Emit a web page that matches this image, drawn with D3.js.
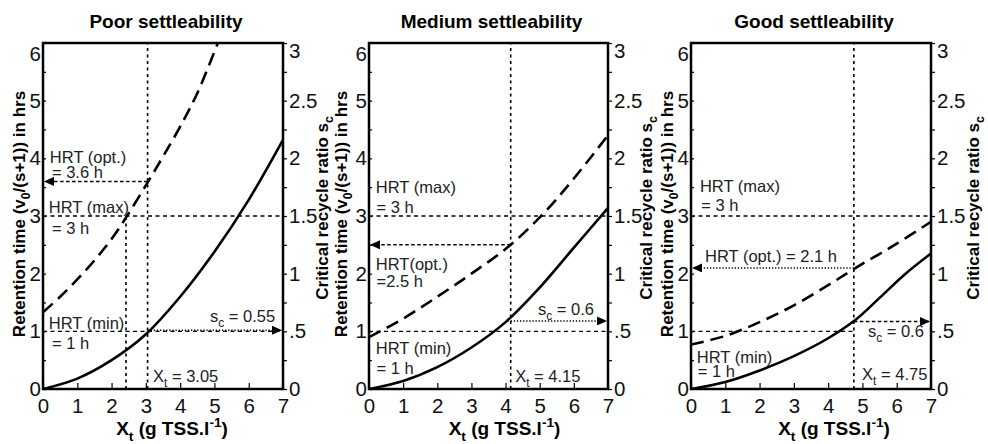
<!DOCTYPE html>
<html>
<head>
<meta charset="utf-8">
<script src="https://cdnjs.cloudflare.com/ajax/libs/d3/7.8.5/d3.min.js"></script>
<style>
body{margin:0;background:#fff;}
svg{font-family:"Liberation Sans",Arial,Helvetica,sans-serif;}
.tick text{font-size:20.5px;fill:#111;}
.note{font-size:16.5px;fill:#222;}
</style>
</head>
<body>
<svg id="chart" width="988" height="444"></svg>
<script>
// ---- data ----
const titles = ['Poor settleability','Medium settleability','Good settleability'];
const xTicks = [0,1,2,3,4,5,6,7];
const hrsTicks = [0,1,2,3,4,5,6];
const ratioTicks = [0,0.5,1,1.5,2,2.5,3];
const ratioTickLabels = ['0','.5','1','1.5','2','2.5','3'];

// retention time v0/(s+1), hrs (dashed, left axis)
const hrtX = [
  [0,0.5,1,1.5,2,2.45,3.05,3.5,4,4.5,5.1],
  [0,1,2,3,4.15,5.2,6,7],
  [0,1,2,3,4,4.75,6,7]
];
const hrtY = [
  [1.33,1.6,1.9,2.23,2.6,3.0,3.58,4.03,4.55,5.13,6.0],
  [0.9,1.22,1.6,2.0,2.5,3.1,3.65,4.4],
  [0.77,0.92,1.16,1.45,1.8,2.08,2.52,2.9]
];
// critical recycle ratio sc (solid, right axis)
const scX = [
  [0,1,2,3,4,5,6,7],
  [0,1,2,3,4,5,6,7],
  [0,1,2,3,4,4.8,5.5,6.2,7]
];
const scY = [
  [0,0.09,0.25,0.475,0.8,1.19,1.64,2.16],
  [0,0.07,0.19,0.36,0.58,0.88,1.225,1.57],
  [0,0.06,0.16,0.285,0.44,0.6,0.79,0.985,1.175]
];
const hrtMin = [1,1,1];
const hrtMax = [3,3,3];
const xtOpt = [3.05,4.15,4.75];
const hrtOpt = [3.6,2.5,2.1];
const scOpt = [0.55,0.6,0.6];
const scArrow = [0.51,0.59,0.585];   // level the sc arrow is drawn at
const hrtMaxCross = [2.42,null,null];

// ---- layout ----
const plotTop = 43, plotBottom = 389;
const panelLeft = [43,369,691];
const panelWidth = [240,239,240];
const xLabelShift = [9,16,23];
const leftLabelX = [25,347,673];
const rightLabelX = [328,652,979];
const optStyle = ['dash','dash','dot'];
const scStyle = ['dot','dot','dash'];
const dashes = {dash:'3.5,2.5', dot:'1.3,1.8', ref:'4,3.5', vert:'3,3.5'};

const notes = [
  [
    {p:[['HRT (opt.)']], x:0.2, y:3.92},
    {p:[['= '+hrtOpt[0]+' h']], x:0.26, y:3.66},
    {p:[['HRT (max)']], x:0.17, y:3.05},
    {p:[['= '+hrtMax[0]+' h']], x:0.26, y:2.69},
    {p:[['HRT (min)']], x:0.17, y:1.04},
    {p:[['= '+hrtMin[0]+' h']], x:0.26, y:0.69},
    {p:[['s'],['c',-1],[' = '+scOpt[0]]], x:6.77, y:1.16, end:true},
    {p:[['X'],['t',-1],[' = '+xtOpt[0]]], x:3.21, y:0.12}
  ],
  [
    {p:[['HRT (max)']], x:0.2, y:3.4},
    {p:[['= '+hrtMax[1]+' h']], x:0.22, y:3.05},
    {p:[['HRT(opt.)']], x:0.2, y:2.06},
    {p:[['='+hrtOpt[1]+' h']], x:0.22, y:1.77},
    {p:[['HRT (min)']], x:0.2, y:0.61},
    {p:[['= '+hrtMin[1]+' h']], x:0.22, y:0.26},
    {p:[['s'],['c',-1],[' = '+scOpt[1]]], x:4.95, y:1.28},
    {p:[['X'],['t',-1],[' = '+xtOpt[1]]], x:4.28, y:0.12}
  ],
  [
    {p:[['HRT (max)']], x:0.26, y:3.42},
    {p:[['= '+hrtMax[2]+' h']], x:0.3, y:3.09},
    {p:[['HRT (opt.) = '+hrtOpt[2]+' h']], x:0.41, y:2.2},
    {p:[['HRT (min)']], x:0.17, y:0.45},
    {p:[['= '+hrtMin[2]+' h']], x:0.2, y:0.2},
    {p:[['s'],['c',-1],[' = '+scOpt[2]]], x:5.16, y:0.9},
    {p:[['X'],['t',-1],[' = '+xtOpt[2]]], x:4.99, y:0.16}
  ]
];

const svg = d3.select('#chart');

// arrow head
svg.append('defs').append('marker')
  .attr('id','arrow').attr('markerUnits','userSpaceOnUse')
  .attr('markerWidth',10).attr('markerHeight',9)
  .attr('refX',9).attr('refY',4.5).attr('orient','auto')
  .append('path').attr('d','M0,0L10,4.5L0,9Z').attr('fill','#000');

function rich(textSel, parts, size){
  let cur = 0;
  parts.forEach(([t,s])=>{
    s = s || 0;
    const target = s===-1 ? size*0.32 : (s===1 ? -size*0.42 : 0);
    const ts = textSel.append('tspan').text(t).attr('dy', target-cur);
    if(s!==0) ts.style('font-size', (size*0.72)+'px');
    cur = target;
  });
}

function cleanAxis(g){
  g.attr('font-size',null).attr('font-family',null);
  g.select('.domain').remove();
  g.selectAll('.tick line').attr('stroke','#000').attr('stroke-width',1.2);
}

titles.forEach((title,i)=>{
  const x = d3.scaleLinear([0,7],[panelLeft[i], panelLeft[i]+panelWidth[i]]);
  const yL = d3.scaleLinear([0,6],[plotBottom,plotTop]);
  const yR = d3.scaleLinear([0,3],[plotBottom,plotTop]);
  const g = svg.append('g');

  g.append('clipPath').attr('id','clip'+i).append('rect')
    .attr('x',x(0)).attr('y',plotTop).attr('width',x(7)-x(0)).attr('height',plotBottom-plotTop);

  // axes
  const left = g.append('g').attr('transform',`translate(${x(0)},0)`)
    .call(d3.axisLeft(yL).tickValues(d3.range(0,6.01,0.5))
      .tickSizeInner(-3).tickSizeOuter(0).tickPadding(2)
      .tickFormat(d=>hrsTicks.includes(d)?String(d):''));
  cleanAxis(left);
  left.selectAll('.tick text').filter(d=>d===6).attr('dy','0.85em');

  const right = g.append('g').attr('transform',`translate(${x(7)},0)`)
    .call(d3.axisRight(yR).tickValues(d3.range(0,3.01,0.25))
      .tickSizeInner(4).tickSizeOuter(0).tickPadding(2)
      .tickFormat(d=>{const k=ratioTicks.indexOf(d);return k<0?'':ratioTickLabels[k];}));
  cleanAxis(right);
  right.selectAll('.tick text').filter(d=>d===3).attr('dy','0.7em');

  const bot = g.append('g').attr('transform',`translate(0,${plotBottom})`)
    .call(d3.axisBottom(x).tickValues(xTicks)
      .tickSizeInner(-6).tickSizeOuter(0).tickPadding(9)
      .tickFormat(d=>String(d)));
  cleanAxis(bot);

  // reference lines
  const ref = g.append('g').attr('fill','none').attr('stroke','#000');
  ref.append('line').attr('x1',x(0)).attr('x2',x(7))
    .attr('y1',yL(hrtMax[i])).attr('y2',yL(hrtMax[i]))
    .attr('stroke-width',1.4).attr('stroke-dasharray',dashes.ref);
  ref.append('line').attr('x1',x(0)).attr('x2',x(i===2?xtOpt[i]:7))
    .attr('y1',yL(hrtMin[i])).attr('y2',yL(hrtMin[i]))
    .attr('stroke-width',1.4).attr('stroke-dasharray',dashes.ref);
  ref.append('line').attr('x1',x(xtOpt[i])).attr('x2',x(xtOpt[i]))
    .attr('y1',yL(0)).attr('y2',yL(6))
    .attr('stroke-width',1.6).attr('stroke-dasharray',dashes.vert);
  if(hrtMaxCross[i]!==null){
    ref.append('line').attr('x1',x(hrtMaxCross[i])).attr('x2',x(hrtMaxCross[i]))
      .attr('y1',yL(0)).attr('y2',yL(hrtMax[i]))
      .attr('stroke-width',1.6).attr('stroke-dasharray',dashes.vert);
  }
  ref.append('line').attr('x1',x(xtOpt[i])).attr('x2',x(0)+2)
    .attr('y1',yL(hrtOpt[i])).attr('y2',yL(hrtOpt[i]))
    .attr('stroke-width',1.5).attr('stroke-dasharray',dashes[optStyle[i]])
    .attr('marker-end','url(#arrow)');
  ref.append('line').attr('x1',x(xtOpt[i])).attr('x2',x(7)-2)
    .attr('y1',yR(scArrow[i])).attr('y2',yR(scArrow[i]))
    .attr('stroke-width',1.5).attr('stroke-dasharray',dashes[scStyle[i]])
    .attr('marker-end','url(#arrow)');

  // curves
  const smooth = d3.curveCatmullRom.alpha(0.5);
  const lineL = d3.line().x(d=>x(d[0])).y(d=>yL(d[1])).curve(smooth);
  const lineR = d3.line().x(d=>x(d[0])).y(d=>yR(d[1])).curve(smooth);
  const curves = g.append('g').attr('clip-path',`url(#clip${i})`).attr('fill','none').attr('stroke','#000');
  curves.append('path').datum(hrtX[i].map((v,k)=>[v,hrtY[i][k]]))
    .attr('d',lineL).attr('stroke-width',2.6).attr('stroke-dasharray','13,7');
  curves.append('path').datum(scX[i].map((v,k)=>[v,scY[i][k]]))
    .attr('d',lineR).attr('stroke-width',2.6);

  // frame
  g.append('rect').attr('x',x(0)).attr('y',plotTop)
    .attr('width',x(7)-x(0)).attr('height',plotBottom-plotTop)
    .attr('fill','none').attr('stroke','#000').attr('stroke-width',2.5);

  // notes
  notes[i].forEach(n=>{
    const t = g.append('text').attr('class','note')
      .attr('x',x(n.x)).attr('y',yL(n.y))
      .attr('text-anchor',n.end?'end':'start');
    rich(t,n.p,16.5);
  });

  // titles and axis labels
  g.append('text').attr('x',(x(0)+x(7))/2+3).attr('y',28)
    .attr('text-anchor','middle').style('font-size','19px').style('font-weight','bold')
    .text(title);

  const xl = g.append('text').attr('x',(x(0)+x(7))/2+xLabelShift[i]).attr('y',435)
    .attr('text-anchor','middle').style('font-size','19px').style('font-weight','bold');
  rich(xl,[['X'],['t',-1],[' (g TSS.l'],['-1',1],[')']],19);

  const yl = g.append('text')
    .attr('transform',`translate(${leftLabelX[i]},214) rotate(-90)`)
    .attr('text-anchor','middle').style('font-size','17px').style('font-weight','bold');
  rich(yl,[['Retention time (v'],['0',-1],['/(s+1)) in hrs']],17);

  const yr = g.append('text')
    .attr('transform',`translate(${rightLabelX[i]},208) rotate(-90)`)
    .attr('text-anchor','middle').style('font-size','17px').style('font-weight','bold');
  rich(yr,[['Critical recycle ratio s'],['c',-1]],17);
});
</script>
</body>
</html>
